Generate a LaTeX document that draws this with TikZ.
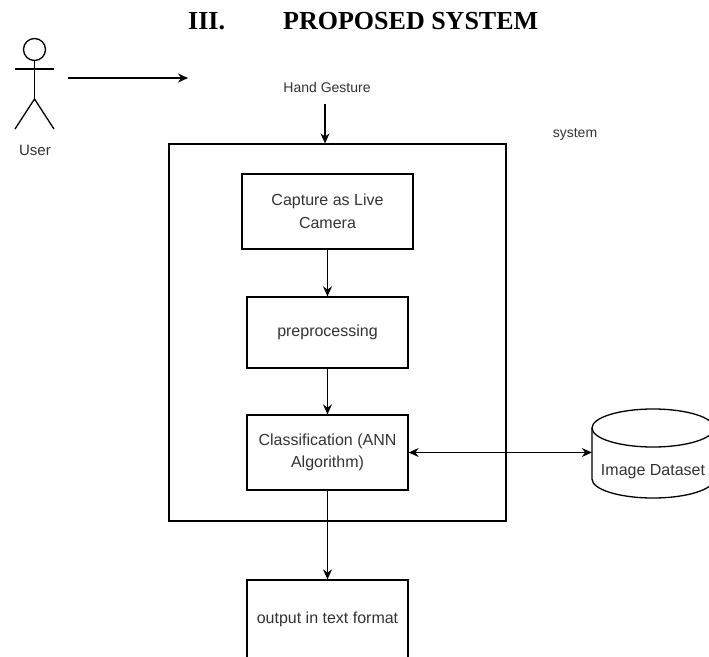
\documentclass[tikz,border=0pt]{standalone}
\usepackage{fontspec}
\setmainfont{Liberation Serif}
\setsansfont{Liberation Sans}
\usetikzlibrary{arrows.meta}
\definecolor{txt}{HTML}{333333}

\begin{document}
\begin{tikzpicture}[x=1pt,y=-1pt,
    line/.style={line width=1.3pt, black},
    arr/.style={line, -{Stealth[length=10pt,width=9pt]}},
    darr/.style={line, {Stealth[length=10pt,width=9pt]}-{Stealth[length=10pt,width=9pt]}},
    box/.style={draw, line width=1.3pt, minimum width=161pt, minimum height=75pt,
      align=center, text=txt, font=\sffamily\fontsize{16}{22.5}\selectfont},
    lbl/.style={text=txt, inner sep=0pt, font=\sffamily\fontsize{14}{17}\selectfont}]
        \useasboundingbox (0,0) rectangle (709,656);
        % Nadpis
        \node[anchor=base west, inner sep=0pt, font=\bfseries\fontsize{26}{30}\selectfont] (num) at (188,29) {III.};
        \node[anchor=base west, inner sep=0pt, font=\bfseries\fontsize{26}{30}\selectfont] (title) at (283,29) {PROPOSED SYSTEM};
        % Uživatel
        \draw[line] (34.5,49.5) circle[radius=11pt];
        \draw[line] (34.5,60.5) -- (34.5,99);
        \draw[line] (15,69) -- (54,69);
        \draw[line] (15,129) -- (34.5,99) -- (54,129);
        \node[lbl, font=\sffamily\fontsize{15}{18}\selectfont] (user) at (35,150) {User};
        \coordinate (act) at (68,78);
        \coordinate (tip) at (188,78);
        \draw[arr] (act) -- (tip);
        % Systém
        \node[lbl] (hg) at (327,87) {Hand Gesture};
        \node[draw, line width=1.3pt, minimum width=337pt, minimum height=377pt] (sys) at (337.5,332.5) {};
        \node[lbl] (syslbl) at (575,134) {system};
        \draw[arr] ([yshift=-12pt]hg.south -| 325,0) -- (325,0 |- sys.north);
        % Kroky
        \node[box, minimum width=171pt] (cap) at (327.5,211.5) {Capture as Live\\Camera};
        \node[box, minimum height=71pt] (pre) at (327.5,332.5) {preprocessing};
        \node[box] (cls) at (327.5,452.5) {Classification (ANN\\Algorithm)};
        \node[box, minimum height=78pt] (out) at (327.5,619) {output in text format};
        \draw[arr] (cap) -- (pre);
        \draw[arr] (pre) -- (cls);
        \draw[arr] (cls) -- (out);
        % Databáze
        \draw[line] (592,428) -- (592,479) arc[start angle=180, end angle=360, x radius=61pt, y radius=19pt] -- (714,428);
        \draw[line] (653,428) ellipse[x radius=61pt, y radius=19pt];
        \node[lbl, font=\sffamily\fontsize{16}{19}\selectfont, minimum width=122pt] (db) at (653,472) {Image Dataset};
        \draw[darr] (cls.east) -- (cls.east -| db.west);
      \end{tikzpicture}
\end{document}
